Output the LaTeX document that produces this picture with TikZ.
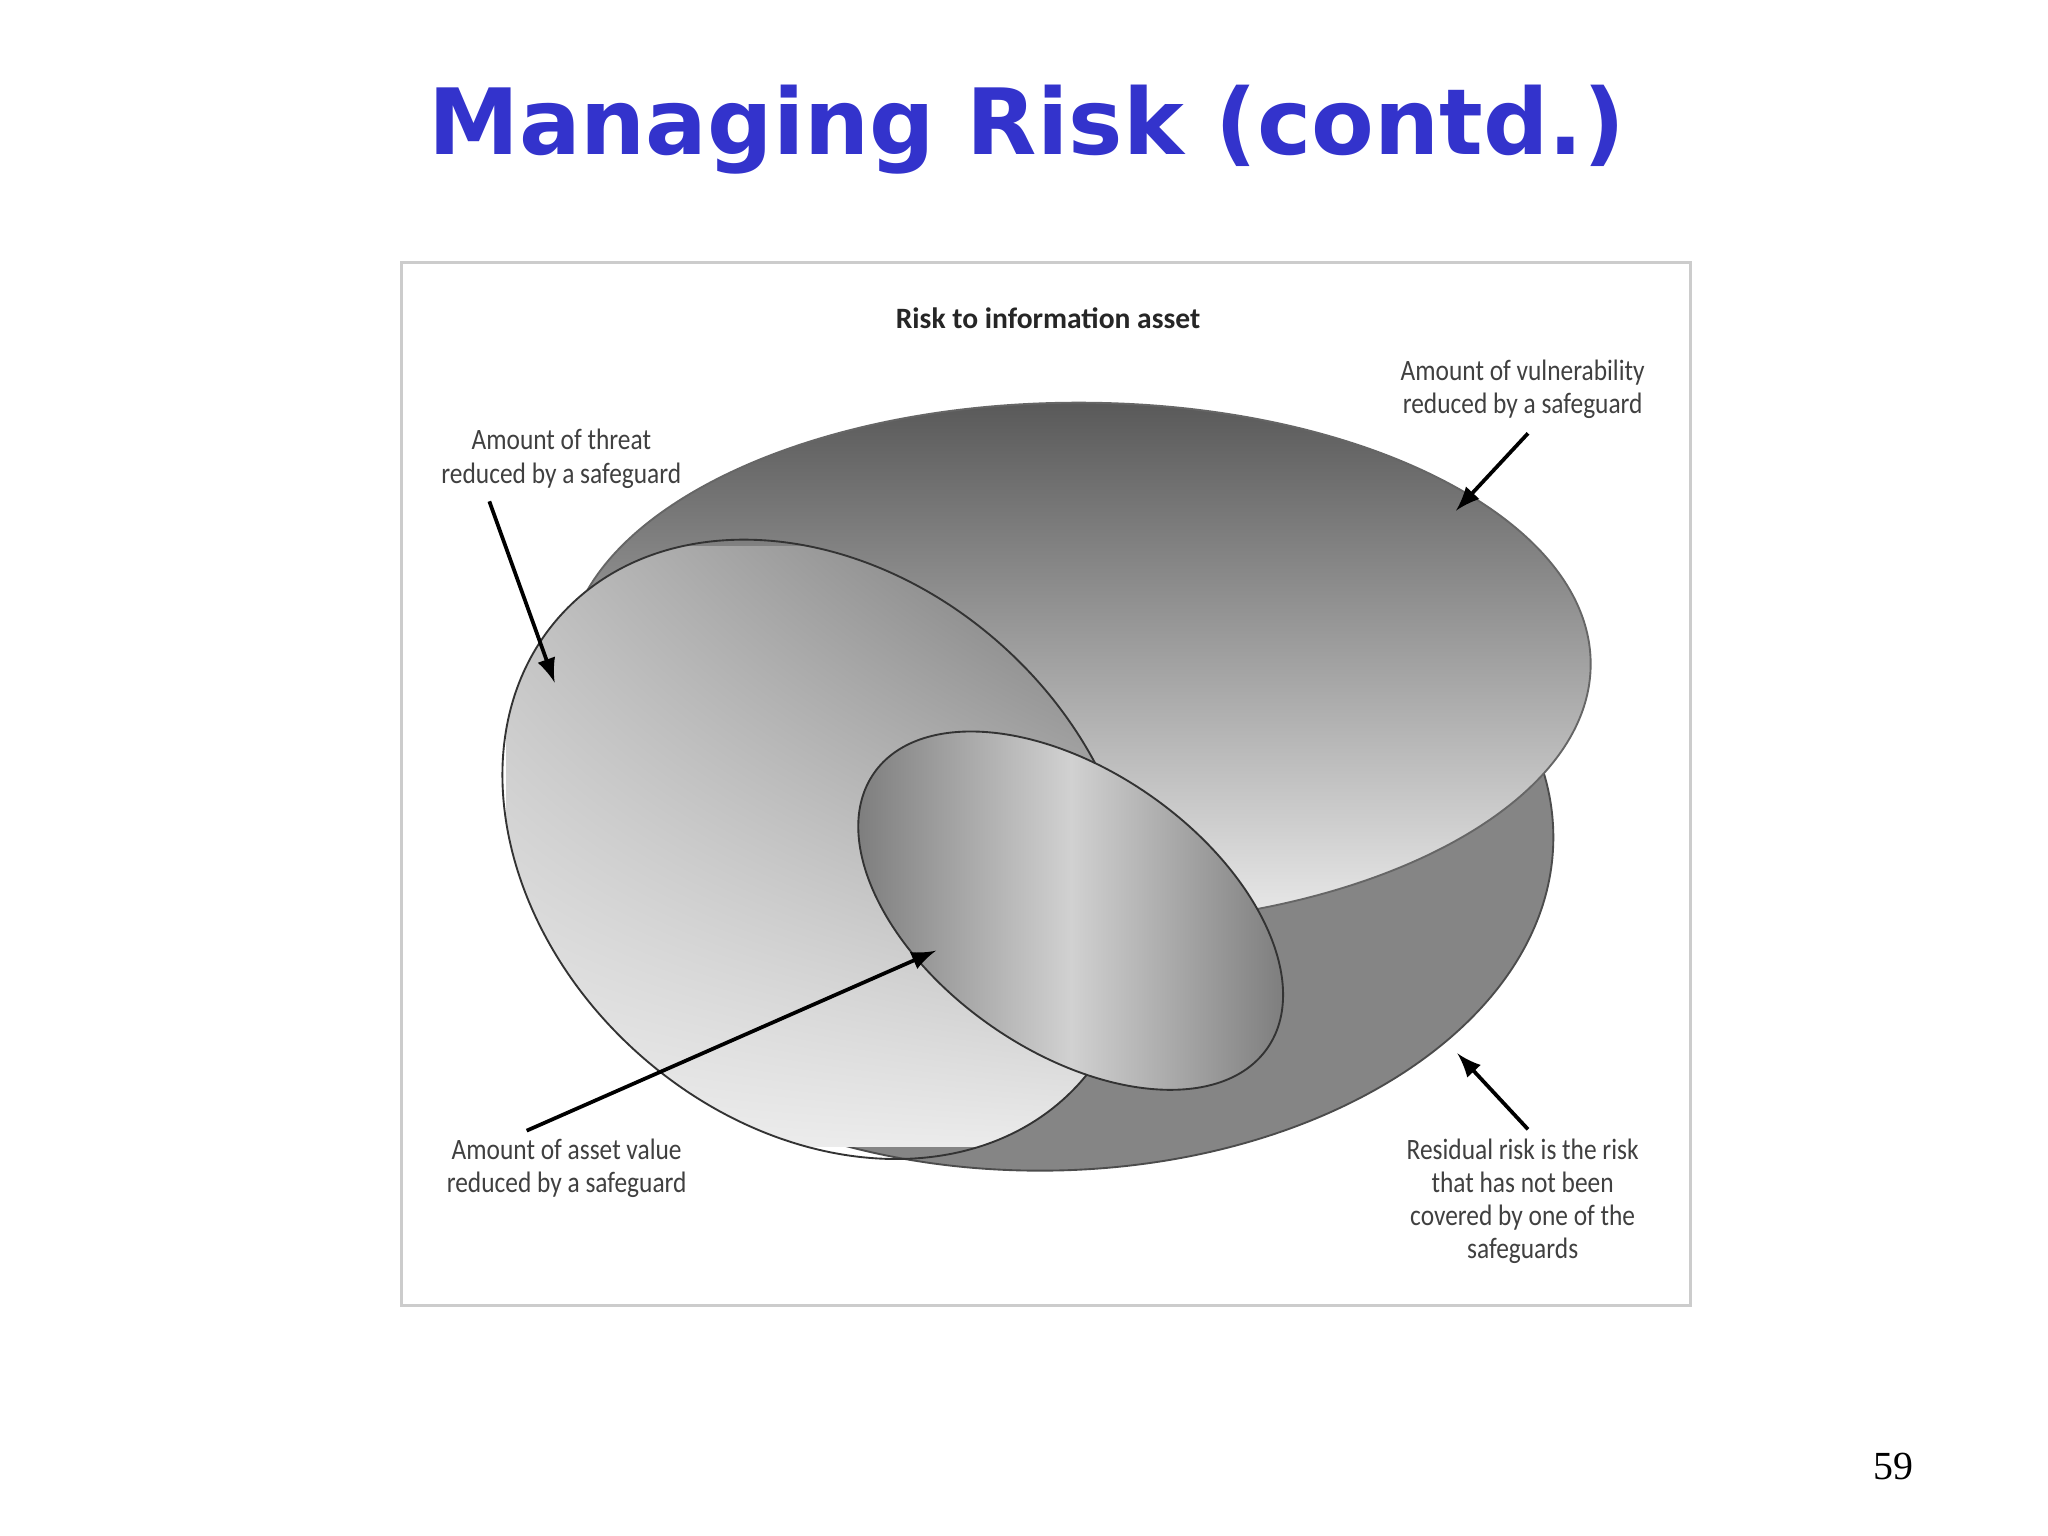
\documentclass[tikz,border=0pt]{standalone}
\usepackage{fontspec}
\usetikzlibrary{shadings}
\setmainfont{Carlito}
\newfontfamily\lblfont[FakeStretch=0.86]{Carlito}
\newfontfamily\titlefont{DejaVu Sans}
\newfontfamily\numfont{Liberation Serif}
\definecolor{titleblue}{RGB}{51,51,204}
\begin{document}
\begin{tikzpicture}[x=0.01cm,y=-0.01cm,
  lbl/.style={font=\lblfont\fontsize{6.3}{7.1}\selectfont, text=black!75, align=center, inner sep=0pt},
  arr/.style={-latex, line width=0.8pt, black}]
\useasboundingbox (0,0) rectangle (1536,1152);
\fill[white] (0,0) rectangle (1536,1152);
\node[font=\titlefont\bfseries\fontsize{19.5}{23}\selectfont, text=titleblue] (title) at (770,97) {Managing Risk (contd.)};
\node[font=\numfont\fontsize{8.5}{10}\selectfont] (num) at (1420,1100) {59};
\draw[black!20, line width=0.6pt] (301,197) rectangle (1268,979);
\node[font=\bfseries\fontsize{6.3}{7.5}\selectfont, text=black!85] (head) at (786,239) {Risk to information asset};
% bowl
\draw[fill=black!48, draw=black!70] (780,628) ellipse [x radius=385, y radius=250];
% top surface
\shade[top color=black!65, bottom color=black!8, draw=black!60] (809,498) ellipse [x radius=384, y radius=196];
% threat ellipse
\begin{scope}
\clip[rotate around={-42:(615,637)}] (615,637) ellipse [x radius=262, y radius=205];
\shade[upper left=black!25, upper right=black!55, lower left=black!7, lower right=black!8] (380,410) rectangle (850,860);
\end{scope}
\draw[black!80, rotate around={-42:(615,637)}] (615,637) ellipse [x radius=262, y radius=205];
% inner asset ellipse
\shade[left color=black!55, right color=black!55, middle color=black!18, draw=black!80, rotate around={-35:(803,683)}] (803,683) ellipse [x radius=180, y radius=105];
% labels
\node[lbl] (threat) at (421,344) {Amount of threat\\reduced by a safeguard};
\node[lbl] (vuln) at (1142,292) {Amount of vulnerability\\reduced by a safeguard};
\node[lbl] (asset) at (425,876) {Amount of asset value\\reduced by a safeguard};
\node[lbl] (resid) at (1142,901) {Residual risk is the risk\\that has not been\\covered by one of the\\safeguards};
\coordinate (tA) at (416,512);
\coordinate (vA) at (1092,383);
\coordinate (aA) at (702,713);
\coordinate (rA) at (1093,790);
\coordinate (t0) at (367,376);
\coordinate (v0) at (1146,325);
\coordinate (a0) at (395,848);
\coordinate (r0) at (1146,847);
\draw[arr] (t0) -- (tA);
\draw[arr] (v0) -- (vA);
\draw[arr] (a0) -- (aA);
\draw[arr] (r0) -- (rA);
\end{tikzpicture}
\end{document}
